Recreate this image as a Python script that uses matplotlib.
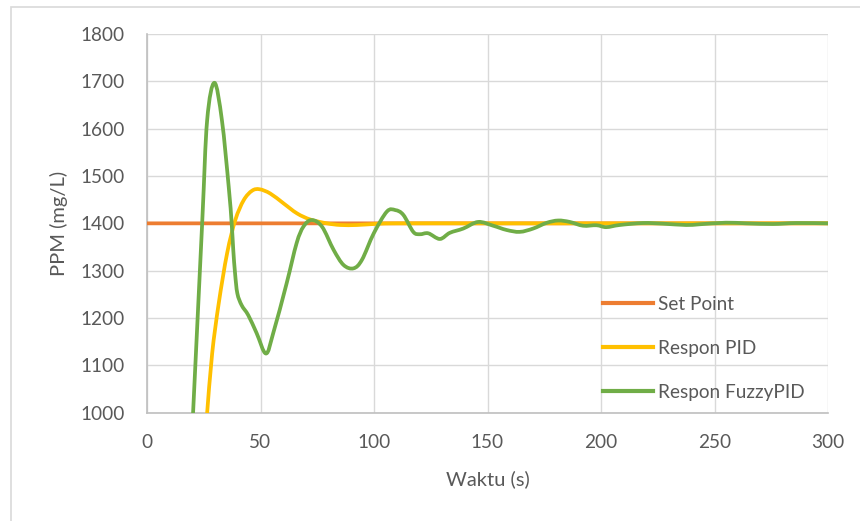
import numpy as np
import matplotlib.pyplot as plt
from matplotlib.path import Path
from matplotlib.patches import PathPatch, Rectangle
from matplotlib.lines import Line2D

plt.rcParams['font.family'] = ['Lato', 'DejaVu Sans']

# time (s) and PPM readings
setpoint_t = [0, 300]
setpoint_v = [1400, 1400]

pid_t = [26.5, 28.7, 31.6, 35.3, 38.9, 42.6, 46.3, 49.6, 54.3, 60.2, 66.1, 72.0,
         79.3, 85.2, 92.5, 99.9, 110, 150, 200, 250, 300]
pid_v = [1000, 1125, 1231, 1337, 1407, 1449, 1469, 1472, 1463, 1442, 1421, 1408,
         1400, 1396.5, 1396.5, 1398.6, 1400, 1400, 1400, 1400, 1400]

fuzzy_t = [20.3, 24.3, 26.5, 29.7, 33.0, 36.0, 37.3, 38.0, 38.8, 39.8, 41.7, 44.6,
           48.3, 52.4, 55.6, 61.5, 65.9, 68.9, 72.5, 77.1, 82.2, 86.6, 91.0, 94.7,
           99.9, 105.7, 109.4, 112.9, 117.3, 120.2, 123.9, 129.0, 133.4, 139.3, 145.9,
           152.5, 158.4, 164.2, 170.1, 176.0, 181.1, 186.2, 192.1, 198.0, 202.3, 208.2,
           218.5, 227.3, 237.5, 243.4, 255.0, 264.0, 275.7, 286.0, 300.0]
fuzzy_v = [1000, 1400, 1618, 1697, 1618, 1477, 1400, 1344, 1294, 1252, 1227, 1206,
           1168, 1125, 1168, 1273, 1358, 1393, 1407, 1393, 1344, 1312, 1305, 1323,
           1379, 1425, 1428, 1418, 1382, 1377, 1379, 1367, 1380, 1389, 1403,
           1395, 1386, 1382, 1389, 1401, 1406, 1403, 1395, 1396, 1392, 1396.5,
           1400.7, 1399.3, 1396.5, 1398, 1401.4, 1400, 1398.6, 1400.7, 1400]

series = [('Set Point', setpoint_t, setpoint_v, '#ED7D31'),
          ('Respon PID', pid_t, pid_v, '#FFC000'),
          ('Respon FuzzyPID', fuzzy_t, fuzzy_v, '#70AD47')]


def smooth_path(x, y):
    # Catmull-Rom style cubic bezier through the points (like a spreadsheet "smoothed line")
    p = np.column_stack([x, y]).astype(float)
    n = len(p)
    verts = [p[0]]
    codes = [Path.MOVETO]
    for i in range(n - 1):
        p0 = p[i - 1] if i > 0 else p[i]
        p3 = p[i + 2] if i + 2 < n else p[i + 1]
        c1 = p[i] + (p[i + 1] - p0) / 6
        c2 = p[i + 1] - (p3 - p[i]) / 6
        verts += [c1, c2, p[i + 1]]
        codes += [Path.CURVE4] * 3
    return Path(verts, codes)


fig = plt.figure(figsize=(8.6, 5.21), dpi=100)
fig.patches.append(Rectangle((11 / 860, -0.1), 1.2, 0.9875 + 0.1, transform=fig.transFigure,
                             fill=False, edgecolor='#D9D9D9', linewidth=1.2))
ax = fig.add_axes([147 / 860, 1 - 412.7 / 521, (828 - 147) / 860, (412.7 - 34) / 521])

for name, t, v, c in series:
    ax.add_patch(PathPatch(smooth_path(t, v), fill=False, edgecolor=c, linewidth=2.7,
                           capstyle='round', joinstyle='round', zorder=3))

ax.set_xlim(0, 300)
ax.set_ylim(1000, 1800)
ax.set_xticks(np.arange(0, 301, 50))
ax.set_yticks(np.arange(1000, 1801, 100))
ax.grid(True, color='#D9D9D9', linewidth=1.0)
ax.set_axisbelow(True)
for s in ['top', 'right']:
    ax.spines[s].set_visible(False)
for s in ['left', 'bottom']:
    ax.spines[s].set_color('#BFBFBF')
    ax.spines[s].set_linewidth(1.2)
ax.tick_params(length=0, labelsize=13.7, labelcolor='#595959')
ax.tick_params(axis='x', pad=15)
ax.tick_params(axis='y', pad=16)

ax.set_xlabel('Waktu (s)', fontsize=14.5, color='#595959', labelpad=14)
ax.set_ylabel('PPM (mg/L)', fontsize=14.5, color='#595959', labelpad=9)

handles = [Line2D([], [], color=c, linewidth=3) for _, _, _, c in series]
ax.legend(handles, [s[0] for s in series], loc='upper left',
          bbox_to_anchor=(603 / 860, 1 - 296 / 521), bbox_transform=fig.transFigure,
          frameon=False, fontsize=13.7, labelcolor='#595959', handlelength=2.63,
          handletextpad=0.26, labelspacing=1.42, borderpad=0, borderaxespad=0)

fig.savefig('out.png', dpi=100)
